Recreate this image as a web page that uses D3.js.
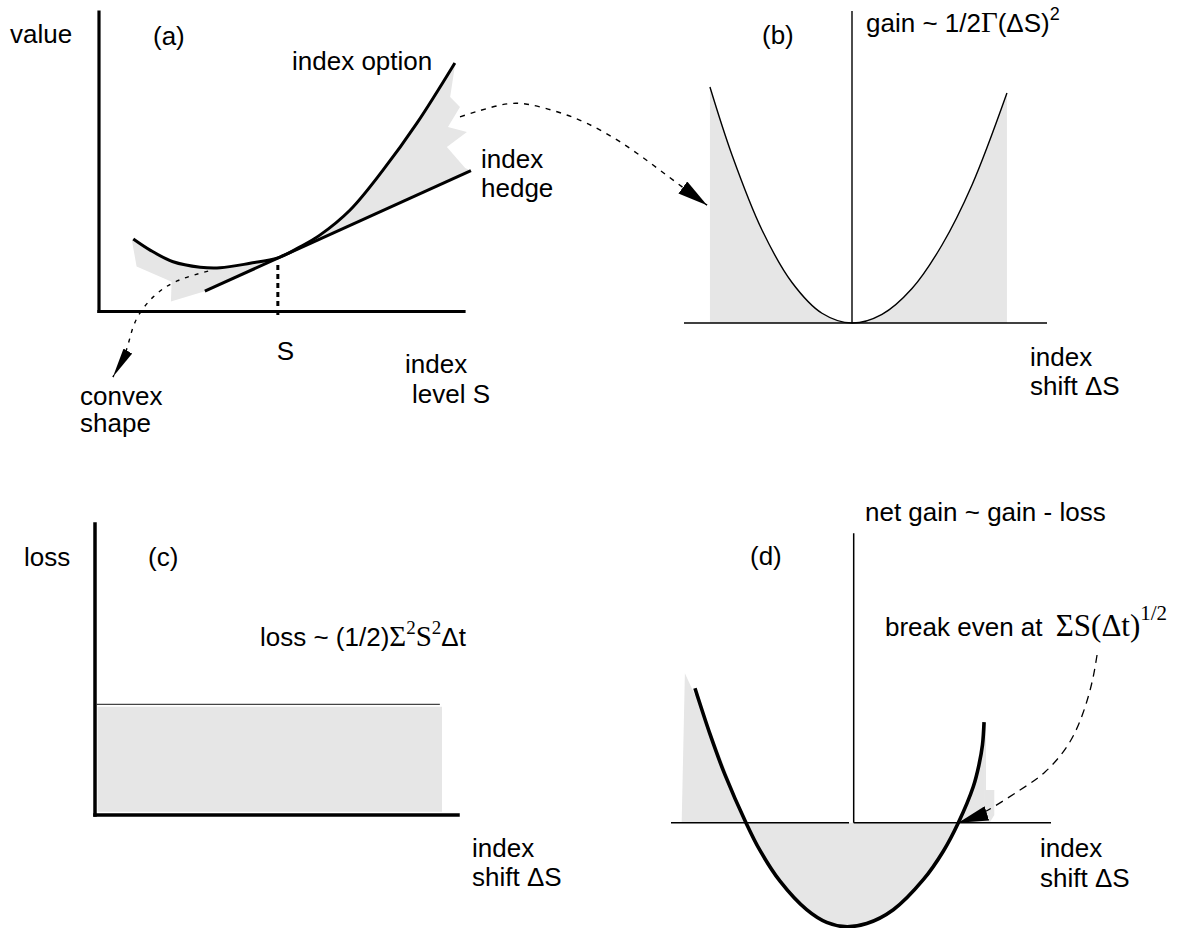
<!DOCTYPE html>
<html>
<head>
<meta charset="utf-8">
<script src="https://cdn.jsdelivr.net/npm/d3@7"></script>
<style>
  body { margin: 0; background: #fff; }
  text { font-family: "Liberation Sans", Arial, Helvetica, sans-serif; font-size: 26px; fill: #000; }
  .serif { font-family: "Liberation Serif", "Times New Roman", serif; }
</style>
</head>
<body>
<svg id="fig" width="1180" height="928"></svg>
<script>
// ---------- (a) option value against index level (arbitrary units) ----------
const optionLevel = [9.4, 14.0, 20.3, 27.7, 33.2, 41.4, 49.0, 55.1, 60.5, 68.8, 77.8, 87.1, 97.5];
const optionValue = [24.2, 20.5, 16.6, 14.8, 14.6, 16.1, 17.9, 21.6, 25.5, 33.9, 47.2, 62.9, 83.0];
const hedgeLevel = [29.0, 101.9];
const hedgeValue = [6.8, 47.0];
const strikeLevel = 49.0;
const strikeIndex = 6;                // position of S in optionLevel
// torn outline of the shaded difference between option and hedge
const shadeEdgeLeft  = [[19.7, 3.3], [19.9, 9.9], [10.3, 15.0], [9.0, 23.9]];
const shadeEdgeRight = [[97.5, 82.0], [96.2, 71.6], [98.9, 68.3], [95.6, 61.6], [100.8, 59.9], [95.3, 54.9], [100.3, 47.9]];
// annotation arrows drawn in panel (a) units
const convexArrow = [[29.9, 13.5], [21.4, 10.2], [14.8, 4.8], [9.9, -3.5], [7.45, -13.0], [3.8, -21.9]];
const gainArrow = [[98.9, 65.0], [109.9, 68.9], [117.3, 69.2], [125.5, 66.7], [133.7, 62.8], [142.7, 56.7], [151.8, 48.9], [160.0, 41.4], [166.6, 35.5]];

// ---------- (b) gain against index shift ----------
const gainShift = [-0.947, -0.8, -0.6, -0.4, -0.2, 0, 0.2, 0.4, 0.6, 0.8, 1.033];
const gainValue = [1.573, 1.12, 0.62, 0.27, 0.065, 0, 0.058, 0.23, 0.52, 0.92, 1.533];

// ---------- (c) loss against index shift ----------
const lossShift = [0.5, 95.0];
const lossLevel = 38.0;
const lossShadeShift = [0.7, 95.6];
const lossShadeRange = [1.1, 37.2];

// ---------- (d) net gain against index shift ----------
const netShift = [-1.086, -0.983, -0.881, -0.737, -0.641, -0.504, -0.322, -0.185, -0.060, 0.089, 0.271, 0.476, 0.613, 0.716, 0.818, 0.857, 0.881, 0.892];
const netGain  = [0.896, 0.590, 0.320, 0, -0.185, -0.390, -0.580, -0.665, -0.693, -0.672, -0.580, -0.380, -0.190, 0, 0.240, 0.385, 0.518, 0.671];
const netShadowLeft  = [[-1.155, 0.996], [-1.011, 0.690], [-0.737, 0], [-1.177, 0]];
const netShadowRight = [[0.892, 0.671], [0.905, 0.665], [0.905, 0.218], [0.962, 0.218], [0.962, 0.051], [0.93, 0], [0.892, 0]];
const breakEvenArrow = [[1.665, 1.118], [1.631, 0.938], [1.569, 0.731], [1.466, 0.518], [1.309, 0.338], [1.138, 0.218], [0.898, 0.073], [0.716, 0.0]];

const GREY = "#e6e6e6";
const svg = d3.select("#fig");

// ---------- scales ----------
const xA = d3.scaleLinear().domain([0, 100]).range([99, 464]);
const yA = d3.scaleLinear().domain([0, 100]).range([311.5, 12]);
const xB = d3.scaleLinear().domain([-1.12, 1.3]).range([684, 1047]);
const yB = d3.scaleLinear().domain([0, 2]).range([323, 23]);
const xC = d3.scaleLinear().domain([0, 100]).range([95, 458]);
const yC = d3.scaleLinear().domain([0, 100]).range([815, 524]);
const xD = d3.scaleLinear().domain([-1.25, 1.35]).range([671, 1051]);
const yD = d3.scaleLinear().domain([-1, 2]).range([972.7, 522.7]);

// ---------- arrowheads ----------
const defs = svg.append("defs");
function arrowHead(id, len, wid) {
  defs.append("marker")
    .attr("id", id)
    .attr("markerUnits", "userSpaceOnUse")
    .attr("viewBox", `${-len} ${-wid / 2} ${len} ${wid}`)
    .attr("refX", 0).attr("refY", 0)
    .attr("markerWidth", len).attr("markerHeight", wid)
    .attr("orient", "auto")
    .append("path")
    .attr("d", `M0,0L${-len},${-wid / 2}L${-len},${wid / 2}Z`)
    .attr("fill", "#000");
}
arrowHead("headNarrow", 30, 10);
arrowHead("headWide", 30, 15);

function seg(g, x, y, x1, y1, x2, y2, w, extra) {
  const l = g.append("line")
    .attr("x1", x(x1)).attr("y1", y(y1)).attr("x2", x(x2)).attr("y2", y(y2))
    .attr("stroke", "#000").attr("stroke-width", w);
  if (extra) extra(l);
  return l;
}
function label(x, y, lines, lh) {
  const t = svg.append("text").attr("x", x).attr("y", y);
  lines.forEach((s, i) => t.append("tspan").attr("x", x + (s.dx || 0)).attr("dy", i ? lh : 0).text(s.t));
  return t;
}

// =================== panel (a) ===================
const gA = svg.append("g");
const lineA = d3.line().x(d => xA(d[0])).y(d => yA(d[1])).curve(d3.curveCatmullRom.alpha(0.5));
const polyA = d3.line().x(d => xA(d[0])).y(d => yA(d[1]));
const optPts = optionLevel.map((s, i) => [s, optionValue[i]]);
const hedgeAt = d3.scaleLinear().domain(hedgeLevel).range(hedgeValue);

// shaded gap between option and hedge, left of S
const leftTail = [[strikeLevel, hedgeAt(strikeLevel)], [hedgeLevel[0], hedgeValue[0]], ...shadeEdgeLeft];
gA.append("path")
  .attr("d", lineA(optPts.slice(0, strikeIndex + 1)) + polyA(leftTail).replace(/^M/, "L") + "Z")
  .attr("fill", GREY);
// shaded gap right of S
const rightTail = [...shadeEdgeRight, [hedgeLevel[1], hedgeValue[1]], [strikeLevel, hedgeAt(strikeLevel)]];
gA.append("path")
  .attr("d", lineA(optPts.slice(strikeIndex)) + polyA(rightTail).replace(/^M/, "L") + "Z")
  .attr("fill", GREY);

// axes
seg(gA, xA, yA, 0, 0, 100, 0, 3.2, l => l.attr("stroke-linecap", "square"));
seg(gA, xA, yA, 0, 0, 0, 100, 3.2, l => l.attr("stroke-linecap", "square"));

// hedge and option
gA.append("path").attr("d", polyA(hedgeLevel.map((s, i) => [s, hedgeValue[i]])))
  .attr("fill", "none").attr("stroke", "#000").attr("stroke-width", 3);
gA.append("path").attr("d", lineA(optPts))
  .attr("fill", "none").attr("stroke", "#000").attr("stroke-width", 3);

// strike marker
seg(gA, xA, yA, strikeLevel, 15.5, strikeLevel, -1.2, 3, l => l.attr("stroke-dasharray", "5,4"));

// dashed pointers
const arrowLineA = d3.line().x(d => xA(d[0])).y(d => yA(d[1])).curve(d3.curveNatural);
gA.append("path").attr("d", arrowLineA(convexArrow))
  .attr("fill", "none").attr("stroke", "#000").attr("stroke-width", 1.4)
  .attr("stroke-dasharray", "4,6").attr("marker-end", "url(#headNarrow)");
gA.append("path").attr("d", arrowLineA(gainArrow))
  .attr("fill", "none").attr("stroke", "#000").attr("stroke-width", 1.4)
  .attr("stroke-dasharray", "5,6").attr("marker-end", "url(#headWide)");

label(10, 43, [{t: "value"}]);
label(153, 45, [{t: "(a)"}]);
label(292, 70, [{t: "index option"}]);
label(481, 168, [{t: "index"}, {t: "hedge"}], 29);
label(xA(strikeLevel) - 1, 360, [{t: "S"}]);
label(405, 373, [{t: "index"}, {t: "level S", dx: 7}], 30);
label(80, 405, [{t: "convex"}, {t: "shape"}], 27);

// =================== panel (b) ===================
const gB = svg.append("g");
const gainPts = gainShift.map((s, i) => [s, gainValue[i]]);
gB.append("path")
  .attr("d", d3.area().x(d => xB(d[0])).y0(yB(0)).y1(d => yB(d[1])).curve(d3.curveCatmullRom.alpha(0.5))(gainPts))
  .attr("fill", GREY);
seg(gB, xB, yB, xB.domain()[0], 0, xB.domain()[1], 0, 1.4);
seg(gB, xB, yB, 0, 0, 0, 2.08, 1.4);
gB.append("path")
  .attr("d", d3.line().x(d => xB(d[0])).y(d => yB(d[1])).curve(d3.curveCatmullRom.alpha(0.5))(gainPts))
  .attr("fill", "none").attr("stroke", "#000").attr("stroke-width", 1.4);

label(762, 44, [{t: "(b)"}]);
const tB = svg.append("text").attr("x", 866).attr("y", 32);
tB.append("tspan").text("gain ~ 1/2");
tB.append("tspan").attr("class", "serif").attr("font-size", 29).text("Γ");
tB.append("tspan").text("(ΔS)");
tB.append("tspan").attr("font-size", 18).attr("dy", -12).text("2");
label(1030, 366, [{t: "index"}, {t: "shift ΔS"}], 29);

// =================== panel (c) ===================
const gC = svg.append("g");
gC.append("path")
  .attr("d", d3.area().x(d => xC(d)).y0(yC(lossShadeRange[0])).y1(yC(lossShadeRange[1]))(lossShadeShift))
  .attr("fill", GREY);
gC.append("path")
  .attr("d", d3.line().x(d => xC(d)).y(yC(lossLevel))(lossShift))
  .attr("stroke", "#444").attr("stroke-width", 1.4);
seg(gC, xC, yC, 0, 0, 100, 0, 3.5, l => l.attr("stroke-linecap", "square"));
seg(gC, xC, yC, 0, 0, 0, 100, 3.5, l => l.attr("stroke-linecap", "square"));

label(24, 566, [{t: "loss"}]);
label(148, 566, [{t: "(c)"}]);
const tC = svg.append("text").attr("x", 260).attr("y", 646);
tC.append("tspan").text("loss ~ (1/2)");
tC.append("tspan").attr("class", "serif").attr("font-size", 29).text("Σ");
tC.append("tspan").attr("class", "serif").attr("font-size", 19).attr("dy", -12).text("2");
tC.append("tspan").attr("class", "serif").attr("font-size", 29).attr("dy", 12).text("S");
tC.append("tspan").attr("class", "serif").attr("font-size", 19).attr("dy", -12).text("2");
tC.append("tspan").attr("dy", 12).text("Δt");
label(472, 857, [{t: "index"}, {t: "shift ΔS"}], 29);

// =================== panel (d) ===================
const gD = svg.append("g");
const netPts = netShift.map((s, i) => [s, netGain[i]]);
gD.append("path")
  .attr("d", d3.area().x(d => xD(d[0])).y0(yD(0)).y1(d => yD(d[1])).curve(d3.curveCatmullRom.alpha(0.5))(netPts))
  .attr("fill", GREY);
const polyD = d3.line().x(d => xD(d[0])).y(d => yD(d[1]));
gD.append("path").attr("d", polyD(netShadowLeft) + "Z").attr("fill", GREY);
gD.append("path").attr("d", polyD(netShadowRight) + "Z").attr("fill", GREY);

seg(gD, xD, yD, xD.domain()[0], 0, -0.032, 0, 1.5);
seg(gD, xD, yD, 0, 0, xD.domain()[1], 0, 1.5);
seg(gD, xD, yD, 0, 0, 0, 1.93, 1.5);
gD.append("path")
  .attr("d", d3.line().x(d => xD(d[0])).y(d => yD(d[1])).curve(d3.curveCatmullRom.alpha(0.5))(netPts))
  .attr("fill", "none").attr("stroke", "#000").attr("stroke-width", 3.6);

gD.append("path")
  .attr("d", d3.line().x(d => xD(d[0])).y(d => yD(d[1])).curve(d3.curveNatural)(breakEvenArrow))
  .attr("fill", "none").attr("stroke", "#000").attr("stroke-width", 1.3)
  .attr("stroke-dasharray", "8,6").attr("marker-end", "url(#headWide)");

label(865, 521, [{t: "net gain ~ gain - loss"}]);
label(750, 565, [{t: "(d)"}]);
const tD = svg.append("text").attr("x", 885).attr("y", 636);
tD.append("tspan").text("break even at ");
tD.append("tspan").attr("class", "serif").attr("font-size", 31).attr("dx", 6).text("ΣS(Δt)");
tD.append("tspan").attr("class", "serif").attr("font-size", 21).attr("dy", -16).text("1/2");
label(1040, 857, [{t: "index"}, {t: "shift ΔS"}], 30);
</script>
</body>
</html>
